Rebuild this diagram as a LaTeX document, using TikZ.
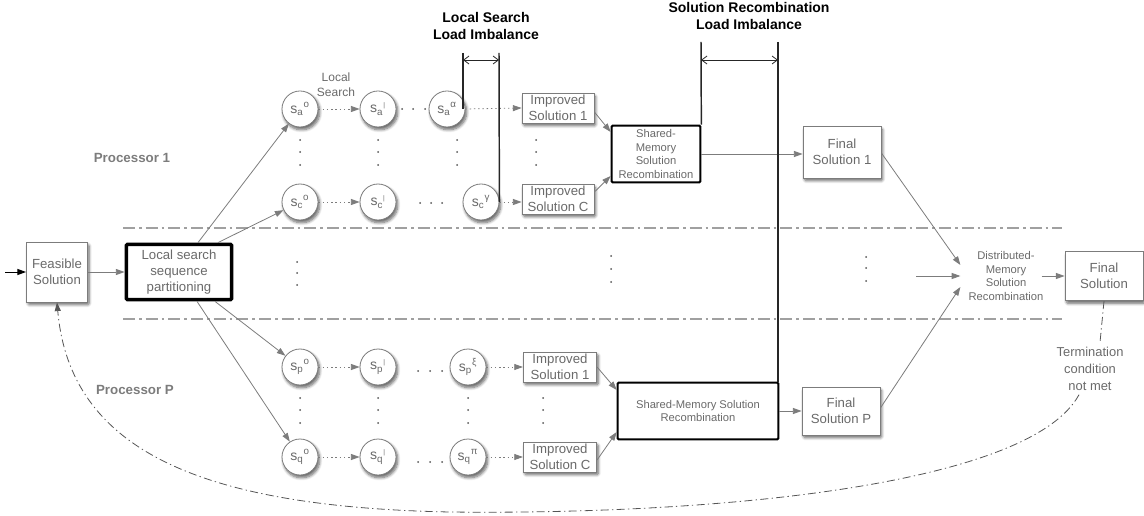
\documentclass[tikz,border=0pt]{standalone}
\usepackage{fontspec}
\setmainfont{Liberation Sans}
\usetikzlibrary{arrows.meta,shadows.blur,calc}
\definecolor{tgray}{HTML}{6A6A6A}
\definecolor{lgray}{HTML}{7C7C7C}
\definecolor{sgray}{HTML}{A0A0A0}
\definecolor{dgray}{HTML}{555555}
\newcommand{\sv}[2]{s\textsubscript{#1}\textsuperscript{#2}}
\newcommand{\tck}{{\fontsize{5}{5}\selectfont |}}
\tikzset{
  shad/.style={blur shadow={shadow xshift=1.2pt, shadow yshift=-2pt, shadow blur steps=7, shadow blur extra rounding=1pt, shadow opacity=60}},
  box/.style={draw=lgray, fill=white, text=tgray, align=center, inner sep=0pt, line width=0.6pt,
    font=\fontsize{9.9}{12}\selectfont, shad},
  thickbox/.style={draw=black, fill=white, text=tgray, align=center, inner sep=0pt, rounded corners=0.8pt},
  st/.style={circle, draw=lgray, fill=white, minimum size=27pt, inner sep=0pt, text=tgray,
    line width=0.6pt, font=\fontsize{10.5}{12}\selectfont, shad},
  arr/.style={draw=lgray, line width=0.6pt, -{Triangle[length=6.5pt,width=4.5pt]}, lgray},
  darr/.style={arr, dash pattern=on 1pt off 2.2pt},
  sep/.style={draw=sgray, line width=1.1pt, dash pattern=on 9pt off 3pt on 2pt off 3pt},
  imb/.style={draw=black!85, line width=1.1pt},
  imbarr/.style={draw=black!85, line width=0.6pt, {Straight Barb[length=4pt,width=6pt]}-{Straight Barb[length=4pt,width=6pt]}},
  lbl/.style={text=tgray, align=center, inner sep=0pt},
  blbl/.style={align=center, inner sep=0pt, font=\fontsize{10.5}{12.5}\selectfont\bfseries},
  dotc/.style={fill=dgray}
}
\begin{document}
\begin{tikzpicture}[x=0.75pt,y=-0.75pt]
\useasboundingbox (0,0) rectangle (1144,516);

% separator lines
\coordinate (s1a) at (123,228); \coordinate (s1b) at (1062,228);
\coordinate (s2a) at (123,319); \coordinate (s2b) at (1062,319);
\draw[sep] (s1a) -- (s1b);
\draw[sep] (s2a) -- (s2b);

% processor labels
\node[blbl, text=lgray, font=\fontsize{10}{12}\selectfont\bfseries] (p1lbl) at (132,158) {Processor 1};
\node[blbl, text=lgray, font=\fontsize{10}{12}\selectfont\bfseries] (pplbl) at (135,390) {Processor P};

% main boxes
\node[box, minimum width=45.75pt, minimum height=45pt] (feas) at (57,272) {Feasible\\Solution};
\node[thickbox, line width=2.6pt, minimum width=79pt, minimum height=41.5pt,
  font=\fontsize{9.9}{12.2}\selectfont] (lssp) at (179,272) {Local search\\sequence\\partitioning};

% states processor 1
\node[st] (sa1) at (300,109) {\sv{a}{o}};
\node[st] (sa2) at (378,109) {\sv{a}{\tck}};
\node[st] (sa3) at (447,109) {\sv{a}{α}};
\node[st] (sc1) at (300,202) {\sv{c}{o}};
\node[st] (sc2) at (378,202) {\sv{c}{\tck}};
\node[st] (sc3) at (481,202) {\sv{c}{γ}};
% states processor P
\node[st] (sp1) at (300,367) {\sv{p}{o}};
\node[st] (sp2) at (378,367) {\sv{p}{\tck}};
\node[st] (sp3) at (468,367) {\sv{p}{ξ}};
\node[st] (sq1) at (300,457) {\sv{q}{o}};
\node[st] (sq2) at (378,457) {\sv{q}{\tck}};
\node[st] (sq3) at (468,457) {\sv{q}{π}};

\node[lbl, font=\fontsize{9}{11}\selectfont] (lslbl) at (336,85) {Local\\Search};

% improved solutions
\node[box, minimum width=54pt, minimum height=22.5pt] (i1) at (558,108) {Improved\\Solution 1};
\node[box, minimum width=54pt, minimum height=22.5pt] (iC) at (558,199) {Improved\\Solution C};
\node[box, minimum width=55pt, minimum height=22.5pt] (ip1) at (560,367) {Improved\\Solution 1};
\node[box, minimum width=55pt, minimum height=22.5pt] (ipC) at (560,457) {Improved\\Solution C};

% shared memory recombination
\node[thickbox, line width=1.5pt, minimum width=66.5pt, minimum height=42.5pt,
  font=\fontsize{8.4}{10.2}\selectfont] (sm1) at (656,154) {Shared-\\Memory\\Solution\\Recombination};
\node[thickbox, line width=1.5pt, minimum width=120.5pt, minimum height=42.5pt,
  font=\fontsize{8.4}{10.2}\selectfont] (smP) at (698,411) {Shared-Memory Solution\\Recombination};

% final solutions
\node[box, minimum width=58.5pt, minimum height=39pt] (fs1) at (842,152) {Final\\Solution 1};
\node[box, minimum width=58.5pt, minimum height=36pt] (fsP) at (841,411) {Final\\Solution P};
\node[lbl, font=\fontsize{8.4}{10.4}\selectfont] (dist) at (1006,276) {Distributed-\\Memory\\Solution\\Recombination};
\node[box, minimum width=58.5pt, minimum height=37pt] (fin) at (1104,276) {Final\\Solution};
\node[lbl, font=\fontsize{9.7}{12.5}\selectfont] (term) at (1090,369) {Termination\\condition\\not met};

% dots
\foreach \x/\y in {402/109,413/109,425/109, 420/203,431/203,442/203,
  418/371,430/371,442/371, 418/462,430/462,442/462}
  \fill[dotc] (\x,\y) circle (0.75pt);
\foreach \x in {300,378,457,536}
  \foreach \y in {140,152,165}
    \fill[dotc] (\x,\y) circle (0.75pt);
\foreach \x in {300,378,468,543}
  \foreach \y in {398,410,423}
    \fill[dotc] (\x,\y) circle (0.75pt);
\foreach \y in {262,273,285} \fill[dotc] (297,\y) circle (0.75pt);
\foreach \y in {256,269,282} \fill[dotc] (611,\y) circle (0.75pt);
\foreach \y in {257,268,281} \fill[dotc] (866,\y) circle (0.75pt);

% input arrow
\coordinate (in) at (5,272);
\draw[line width=0.7pt, -{Triangle[length=6.5pt,width=4.5pt]}] (in) -- (feas.west);
\draw[arr] (feas.east) -- (lssp.west);

% partition arrows
\draw[arr] ($(lssp.north)+(19,0)$) -- (sa1);
\draw[arr] ($(lssp.north)+(39,0)$) -- (sc1);
\draw[arr] ($(lssp.south)+(36,0)$) -- (sp1);
\draw[arr] ($(lssp.south)+(18,0)$) -- (sq1);

% dotted arrows
\draw[darr] (sa1) -- (sa2);
\draw[darr] (sc1) -- (sc2);
\draw[darr] (sp1) -- (sp2);
\draw[darr] (sq1) -- (sq2);
\draw[darr] (sa3.east) -- (i1.west);
\draw[darr] (sc3.east) -- (sc3.east -| iC.west);
\draw[darr] (sp3.east) -- (ip1.west);
\draw[darr] (sq3.east) -- (ipC.west);

% to shared memory recombination
\draw[arr] ($(i1.east)+(0,4)$) -- ($(sm1.west)+(0,-22)$);
\draw[arr] ($(iC.east)+(0,-7)$) -- ($(sm1.west)+(0,22)$);
\draw[arr] (ip1.east) -- ($(smP.west)+(0,-21)$);
\draw[arr] ($(ipC.east)+(0,3)$) -- ($(smP.west)+(0,21)$);
\draw[arr] (sm1.east) -- (sm1.east -| fs1.west);
\draw[arr] (smP.east) -- (smP.east -| fsP.west);

% distributed recombination
\coordinate (dm) at (916,276);
\draw[arr] ($(fs1.east)+(0,1)$) -- ($(dist.west)+(-8,-11)$);
\draw[arr] (dm) -- ($(dist.west)+(-8,0)$);
\draw[arr] ($(fsP.east)+(0,-3)$) -- ($(dist.west)+(-8,11)$);
\draw[arr] ($(dist.east)+(-2,0)$) -- (fin.west);

% feedback loop
\draw[draw=dgray, line width=0.6pt, dash pattern=on 6pt off 2.5pt on 1pt off 2.5pt]
  (fin.south) -- ($(term.north)+(10,-5)$);
\draw[draw=dgray, line width=0.6pt, dash pattern=on 6pt off 2.5pt on 1pt off 2.5pt,
  -{Triangle[length=6.5pt,width=4.5pt]}]
  ($(term.south)+(-11,4)$) .. controls (1030,485) and (720,515) .. (450,512)
  .. controls (200,507) and (70,450) .. (feas.south);

% load imbalance markers
\coordinate (lsT1) at (463,53);
\coordinate (lsT2) at (499,53);
\draw[imb] (lsT1) -- (lsT1 |- sa3.east);
\draw[imb] (lsT2) -- (sc3.east);
\coordinate (lsA1) at (463,60); \coordinate (lsA2) at (499,60);
\draw[imbarr] (lsA1) -- (lsA2);
\node[blbl] (lslab) at (486,26) {Local Search\\Load Imbalance};

\coordinate (srT1) at (701,42);
\coordinate (srT2) at (778,42);
\draw[imb] (srT1) -- (sm1.north east);
\draw[imb] (srT2) -- (srT2 |- smP.north);
\coordinate (srA1) at (701,60); \coordinate (srA2) at (778,60);
\draw[imbarr] (srA1) -- (srA2);
\node[blbl] (srlab) at (749,16) {Solution Recombination\\Load Imbalance};

\end{tikzpicture}
\end{document}
